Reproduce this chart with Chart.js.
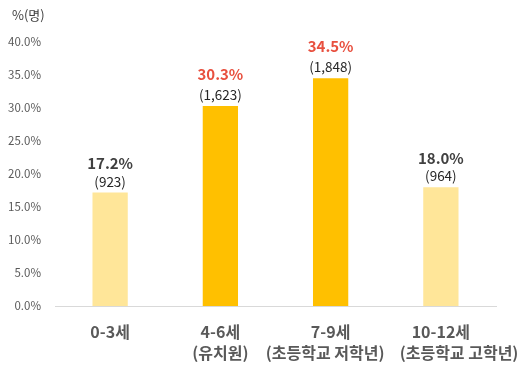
<!DOCTYPE html>
<html><head><meta charset="utf-8">
<script src="https://cdn.jsdelivr.net/npm/chart.js@4/dist/chart.umd.min.js"></script>
<style>html,body{margin:0;padding:0;background:#fff}canvas{display:block}</style>
</head><body>
<canvas id="c" width="532" height="374"></canvas>
<script>
const categories = [["0-3세"], ["4-6세", "(유치원)"], ["7-9세", "(초등학교 저학년)   "], ["10-12세", "          (초등학교 고학년)"]];
const percentValues = [17.2, 30.3, 34.5, 18.0];
const countValues = ["(923)", "(1,623)", "(1,848)", "(964)"];
const barColors = ["#FFE699", "#FFC000", "#FFC000", "#FFE699"];
const pctColors = ["#404040", "#E8503F", "#E8503F", "#404040"];
const yTicks = [0, 5, 10, 15, 20, 25, 30, 35, 40];
const FONT = "'Noto Sans CJK KR', 'Noto Sans', sans-serif";

const labelPlugin = {
  id: 'barLabels',
  afterDatasetsDraw(chart) {
    const ctx = chart.ctx;
    const meta = chart.getDatasetMeta(0);
    ctx.save();
    ctx.textAlign = 'center';
    ctx.textBaseline = 'middle';
    meta.data.forEach((bar, i) => {
      const x = bar.x, y = bar.y;
      ctx.fillStyle = '#262626';
      ctx.font = "13.5px " + FONT;
      ctx.fillText(countValues[i], x, y - 11);
      ctx.fillStyle = pctColors[i];
      ctx.font = "bold 15px " + FONT;
      ctx.fillText(percentValues[i].toFixed(1) + '%', x, y - (pctColors[i] === '#404040' ? 29 : 32));
    });
    ctx.fillStyle = '#404040';
    ctx.font = "13px " + FONT;
    ctx.textAlign = 'left';
    ctx.fillText('%(명)', 12, 15);
    ctx.restore();
  }
};

new Chart(document.getElementById('c'), {
  type: 'bar',
  data: {
    labels: categories,
    datasets: [{
      data: percentValues,
      backgroundColor: barColors,
      borderWidth: 0,
      categoryPercentage: 1.0,
      barPercentage: 0.32
    }]
  },
  options: {
    responsive: false,
    animation: false,
    devicePixelRatio: 1,
    layout: { padding: { top: 42, right: 36, left: 0, bottom: 0 } },
    plugins: { legend: { display: false }, tooltip: { enabled: false } },
    scales: {
      y: {
        min: 0, max: 40,
        afterBuildTicks(scale) { scale.ticks = yTicks.map(v => ({ value: v })); },
        afterFit(scale) { scale.width = 55; scale.paddingTop = 0; scale.paddingBottom = 0; },
        grid: { display: false, drawTicks: false },
        border: { display: false },
        ticks: {
          padding: 14,
          color: '#595959',
          font: { family: FONT, size: 11.5 },
          callback: v => v.toFixed(1) + '%'
        }
      },
      x: {
        afterFit(scale) { scale.height = 68; scale.paddingLeft = 0; scale.paddingRight = 0; },
        grid: { display: false, drawTicks: false },
        border: { display: true, color: '#D9D9D9', width: 1 },
        ticks: {
          autoSkip: false,
          padding: 16,
          color: '#595959',
          font: { family: FONT, size: 16, weight: 'bold', lineHeight: 1.3 },
          maxRotation: 0,
          minRotation: 0
        }
      }
    }
  },
  plugins: [labelPlugin]
});
</script>
</body></html>
